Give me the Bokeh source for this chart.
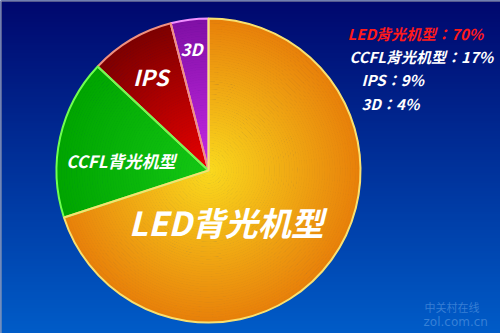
import numpy as np
from bokeh.plotting import figure
from bokeh.models import Range1d, ColumnDataSource
from bokeh.core.properties import value
from bokeh.embed import file_html
from bokeh.resources import INLINE

# ---- data ----
categories = ["3D", "IPS", "CCFL背光机型", "LED背光机型"]
shares = [4, 9, 17, 70]

# ---- styles ----
inner_colors = [(200, 40, 230), (235, 0, 0), (20, 200, 20), (250, 218, 30)]
outer_colors = [(128, 16, 165), (125, 0, 0), (0, 165, 0), (232, 128, 10)]
border_colors = ["#f090ff", "#f09080", "#70ff50", "#f8e070"]
label_font_sizes = ["17px", "22px", "17px", "33px"]
label_polar = [(97.9, 0.81), (121.4, 0.73), (173.5, 0.58), (289.0, 0.36)]

W, H = 500, 333
cx, cy, R = 208, 333 - 170, 152
FONT = value("Noto Sans CJK SC")
FONT_TC = value("Noto Sans CJK TC")

p = figure(width=W, height=H, x_range=Range1d(0, W), y_range=Range1d(0, H),
           output_backend="svg", toolbar_location=None, min_border=0)
p.axis.visible = False
p.grid.visible = False
p.outline_line_color = None
p.background_fill_color = "#002a90"
p.border_fill_color = "#002a90"

# background vertical gradient
n = 128
img = np.empty((n, 1), dtype=np.uint32)
view = img.view(dtype=np.uint8).reshape((n, 1, 4))
top = np.array([0, 8, 110]); bottom = np.array([0, 92, 200])
for i in range(n):
    t = i / (n - 1)  # 0 bottom -> 1 top
    c = bottom * (1 - t) + top * t
    view[i, 0, :3] = c.astype(np.uint8)
    view[i, 0, 3] = 255
p.image_rgba(image=[img], x=0, y=0, dw=W, dh=H)

# thin grey frame lines at top and left
p.segment(x0=[0, 0.5], y0=[H - 0.5, 0], x1=[W, 0.5], y1=[H - 0.5, H],
          line_color="#a8a8b0", line_width=1)

# pie with radial gradient
total = sum(shares)
starts, ends = [], []
a = np.pi / 2
for s in shares:
    starts.append(a)
    a = a + s / total * 2 * np.pi
    ends.append(a)

N = 60
for i in range(len(categories)):
    xs, ys, ri, ro, sa, ea, cols = [], [], [], [], [], [], []
    ci = np.array(inner_colors[i]); co = np.array(outer_colors[i])
    for k in range(N):
        t = (k + 0.5) / N
        c = ci * (1 - t) + co * t
        cols.append("#%02x%02x%02x" % tuple(int(round(v)) for v in c))
        ri.append(R * k / N); ro.append(R * (k + 1) / N)
        sa.append(starts[i]); ea.append(ends[i]); xs.append(cx); ys.append(cy)
    src = ColumnDataSource(dict(x=xs, y=ys, ri=ri, ro=ro, sa=sa, ea=ea, c=cols))
    p.annular_wedge(x="x", y="y", inner_radius="ri", outer_radius="ro",
                    start_angle="sa", end_angle="ea", fill_color="c",
                    line_color="c", line_width=1, source=src)

p.wedge(x=[cx] * 4, y=[cy] * 4, radius=R, start_angle=starts, end_angle=ends,
        fill_alpha=0, line_color=border_colors, line_width=2)

# slice labels
for i, cat in enumerate(categories):
    ang, rf = label_polar[i]
    lx = cx + R * rf * np.cos(np.radians(ang))
    ly = cy + R * rf * np.sin(np.radians(ang))
    p.text(x=[lx], y=[ly], text=[cat], text_color="white", text_font=FONT,
           text_font_style="bold italic", text_font_size=label_font_sizes[i],
           text_align="center", text_baseline="middle")

# legend text (top right)
order = [3, 2, 1, 0]
leg_x = [347, 349, 361, 361]
leg_y = [333 - 33, 333 - 56, 333 - 79, 333 - 103]
leg_colors = ["#ff1a1a", "white", "white", "white"]
for j, i in enumerate(order):
    p.text(x=[leg_x[j]], y=[leg_y[j]], text=[f"{categories[i]}：{shares[i]}%"],
           text_color=leg_colors[j], text_font=FONT_TC, text_font_style="bold italic",
           text_font_size="15px", text_align="left", text_baseline="middle")

# watermark
p.text(x=[424], y=[333 - 306], text=["中关村在线"], text_color="#6fa8e8", text_alpha=0.5,
       text_font=FONT, text_font_size="11px", text_align="left", text_baseline="middle")
p.text(x=[423], y=[333 - 321], text=["zol.com.cn"], text_color="#6fa8e8", text_alpha=0.5,
       text_font=value("DejaVu Sans"), text_font_size="12px", text_align="left",
       text_baseline="middle")

open("out.html", "w").write(file_html(p, INLINE))
